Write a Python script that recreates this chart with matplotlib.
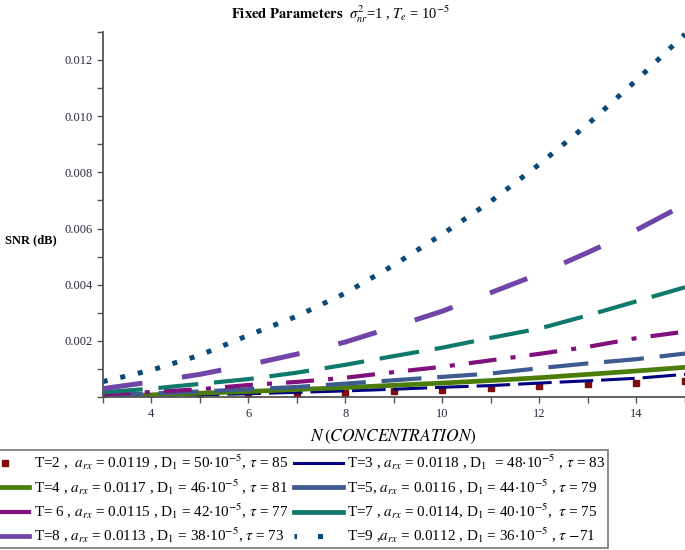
import numpy as np
import matplotlib
matplotlib.use("Agg")
import matplotlib.pyplot as plt
from matplotlib.ticker import MultipleLocator
from matplotlib.lines import Line2D

plt.rcParams['font.family'] = ['Liberation Serif', 'DejaVu Serif']
plt.rcParams['mathtext.fontset'] = 'stix'

# concentration N
n_conc = [3, 4, 5, 6, 7, 8, 9, 10, 11, 12, 13, 14, 15]

# SNR, one list per T
snr_t2 = [0.00000, 0.00002, 0.00004, 0.00008, 0.00012, 0.00015, 0.00020,
          0.00027, 0.00032, 0.00038, 0.00045, 0.00050, 0.00057]
snr_t3 = [0.00002, 0.00005, 0.00008, 0.00012, 0.00017, 0.00022, 0.00028,
          0.00035, 0.00041, 0.00050, 0.00058, 0.00067, 0.00081]
snr_t4 = [0.00003, 0.00008, 0.00014, 0.00020, 0.00027, 0.00034, 0.00042,
          0.00050, 0.00059, 0.00069, 0.00081, 0.00093, 0.00106]
snr_t5 = [0.00007, 0.00013, 0.00020, 0.00028, 0.00036, 0.00048, 0.00060,
          0.00072, 0.00084, 0.00103, 0.00120, 0.00135, 0.00155]
snr_t6 = [0.00010, 0.00018, 0.00028, 0.00043, 0.00054, 0.00069, 0.00089,
          0.00108, 0.00131, 0.00154, 0.00179, 0.00210, 0.00233]
snr_t7 = [0.00017, 0.00030, 0.00047, 0.00064, 0.00087, 0.00115, 0.00146,
          0.00176, 0.00211, 0.00244, 0.00291, 0.00341, 0.00391]
snr_t8 = [0.00030, 0.00054, 0.00081, 0.00115, 0.00153, 0.00196, 0.00250,
          0.00306, 0.00372, 0.00439, 0.00515, 0.00595, 0.00686]
snr_t9 = [0.00055, 0.00096, 0.00149, 0.00220, 0.00288, 0.00370, 0.00470,
          0.00580, 0.00697, 0.00829, 0.00972, 0.01128, 0.01292]

labels = [
    r"T=2 ,  $a_{rx}$ = 0.0119 , D$_1$ = 50$\cdot$10$^{-5}$, $\tau$ = 85",
    r"T=3 , $a_{rx}$ = 0.0118 , D$_1$  = 48$\cdot$10$^{-5}$ , $\tau$ = 83",
    r"T=4 , $a_{rx}$ = 0.0117 , D$_1$ = 46$\cdot$10$^{-5}$ , $\tau$ = 81",
    r"T=5, $a_{rx}$ = 0.0116 , D$_1$ = 44$\cdot$10$^{-5}$ , $\tau$ = 79",
    r"T= 6 , $a_{rx}$ = 0.0115 , D$_1$ = 42$\cdot$10$^{-5}$, $\tau$ = 77",
    r"T=7 , $a_{rx}$ = 0.0114, D$_1$ = 40$\cdot$10$^{-5}$,  $\tau$ = 75",
    r"T=8 , $a_{rx}$ = 0.0113 , D$_1$ = 38$\cdot$10$^{-5}$, $\tau$ = 73",
    r"T=9 ,$a_{rx}$ = 0.0112 , D$_1$ = 36$\cdot$10$^{-5}$ , $\tau$ $-$71",
]
colors = ['#7d0d0d', '#000080', '#4b7d0a', '#3d5b8e',
          '#80107c', '#0f7a6c', '#7045a8', '#0a4a7a']

fig = plt.figure(figsize=(6.85, 5.5), dpi=100)
ax = fig.add_axes([0.150, 0.278, 0.850, 0.664])

ax.plot(n_conc, snr_t2, ls='none', marker='s', ms=4.3, color=colors[0])
ax.plot(n_conc, snr_t3, ls=(0, (11, 2.6)), lw=2.2, color=colors[1], dash_capstyle='butt')
ax.plot(n_conc, snr_t4, ls='-', lw=3.4, color=colors[2])
ax.plot(n_conc, snr_t5, ls=(0, (9.6, 3.8)), lw=3.0, color=colors[3], dash_capstyle='butt')
ax.plot(n_conc, snr_t6, ls=(0, (6.7, 3.4, 1.2, 3.4)), lw=3.0, color=colors[4], dash_capstyle='butt')
ax.plot(n_conc, snr_t7, ls=(0, (9.6, 3.8)), lw=3.0, color=colors[5], dash_capstyle='butt')
ax.plot(n_conc, snr_t8, ls=(0, (8, 8)), lw=3.6, color=colors[6], dash_capstyle='butt')
ax.plot(n_conc, snr_t9, ls=(0, (1, 2.6)), lw=3.6, color=colors[7], dash_capstyle='butt')

ax.set_xlim(3, 15)
ax.set_ylim(0, 0.013)
ax.xaxis.set_minor_locator(MultipleLocator(1))
ax.yaxis.set_minor_locator(MultipleLocator(0.001))
ax.set_xticks([4, 6, 8, 10, 12, 14])
ax.set_yticks([0.002, 0.004, 0.006, 0.008, 0.010, 0.012])
ax.yaxis.set_major_formatter(plt.FuncFormatter(lambda v, p: f"{v:.3f}"))

for s in ('top', 'right'):
    ax.spines[s].set_visible(False)
for s in ('left', 'bottom'):
    ax.spines[s].set_color('#555555')
    ax.spines[s].set_linewidth(1.3)
ax.tick_params(which='both', direction='out', length=4, width=1, color='#555555',
               labelsize=9, labelcolor='#2a2a45')

ax.set_xlabel(r"$N\,(CONCENTRATION)$", fontsize=12.5, labelpad=6)
fig.text(0.008, 1 - 240 / 550, "SNR (dB)", fontsize=9, fontweight='bold', va='center')
fig.text(0.497, 1 - 14 / 550,
         r"$\mathbf{Fixed\ Parameters}$  $\sigma^{2}_{nr}$=1 , $T_e$ = 10$^{-5}$",
         fontsize=10.5, ha='center', va='center')

# legend keys: solid strokes like the original, filled row by row
keys = [
    Line2D([], [], ls='none', marker='s', ms=4.3, color=colors[0]),
    Line2D([], [], lw=2.2, color=colors[1]),
    Line2D([], [], lw=3.4, color=colors[2]),
    Line2D([], [], lw=3.4, color=colors[3]),
    Line2D([], [], lw=3.0, color=colors[4]),
    Line2D([], [], lw=3.4, color=colors[5]),
    Line2D([], [], lw=3.4, color=colors[6]),
    Line2D([], [], ls=(0.5, (1, 4.2)), lw=3.6, color=colors[7]),
]
order = [0, 2, 4, 6, 1, 3, 5, 7]
leg = fig.legend(handles=[keys[i] for i in order], labels=[labels[i] for i in order],
                 ncol=2, loc='lower left', bbox_to_anchor=(-0.035, 0.0),
                 fontsize=10.9, frameon=True, fancybox=False,
                 handlelength=3.2, handletextpad=0.3, columnspacing=0.4,
                 labelspacing=0.33, borderpad=0.2, borderaxespad=0.1)
leg.get_frame().set_edgecolor('#555555')
leg.get_frame().set_linewidth(1.2)

fig.savefig("out.png", dpi=100)
